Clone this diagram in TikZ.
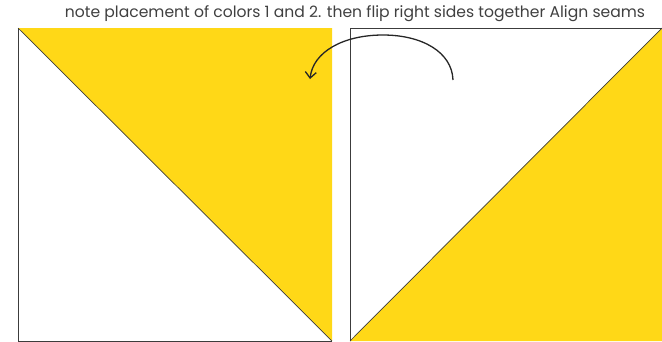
\documentclass[tikz,border=0pt]{standalone}
\usepackage{fontspec}
\setmainfont{Poppins}
\usetikzlibrary{arrows.meta}
\definecolor{quiltyellow}{RGB}{255,216,23}
\definecolor{seam}{RGB}{60,60,60}
\tikzset{
  edge/.style={draw=seam, line width=0.7pt},
  flip/.style={draw=black!85, line width=1.3pt, -{Straight Barb[length=6pt,width=11pt]}}
}
\begin{document}
\begin{tikzpicture}[x=1pt,y=-1pt]
\useasboundingbox (0,0) rectangle (662,341);
% left square
\coordinate (LTL) at (18,28);
\coordinate (LTR) at (332,28);
\coordinate (LBR) at (332,341);
\coordinate (LBL) at (18,341);
\fill[quiltyellow] (LTL) -- (LTR) -- (LBR) -- cycle;
\draw[edge] (LTL) -- (LBR);
\draw[edge] (LTL) -- (LBL) -- (LBR);
% right square
\coordinate (RTL) at (350,28);
\coordinate (RTR) at (662,28);
\coordinate (RBR) at (662,341);
\coordinate (RBL) at (350,341);
\fill[quiltyellow] (RBL) -- (RTR) -- (RBR) -- cycle;
\draw[edge] (RBL) -- (RTR);
\draw[edge] (RBL) -- (RTL) -- (RTR);
% text
\node[font=\fontsize{15.6}{18}\selectfont, text=black!75, anchor=base, inner sep=0pt] (note) at (355,17) {note placement of colors 1 and 2. then flip right sides together Align seams};
% arrow
\coordinate (AS) at (453,80);
\coordinate (AM) at (383,35);
\coordinate (AE) at (310,79);
\draw[flip] (AS) .. controls (452,52) and (422,35) .. (AM) .. controls (343,35) and (313,52) .. (AE);
\end{tikzpicture}
\end{document}
